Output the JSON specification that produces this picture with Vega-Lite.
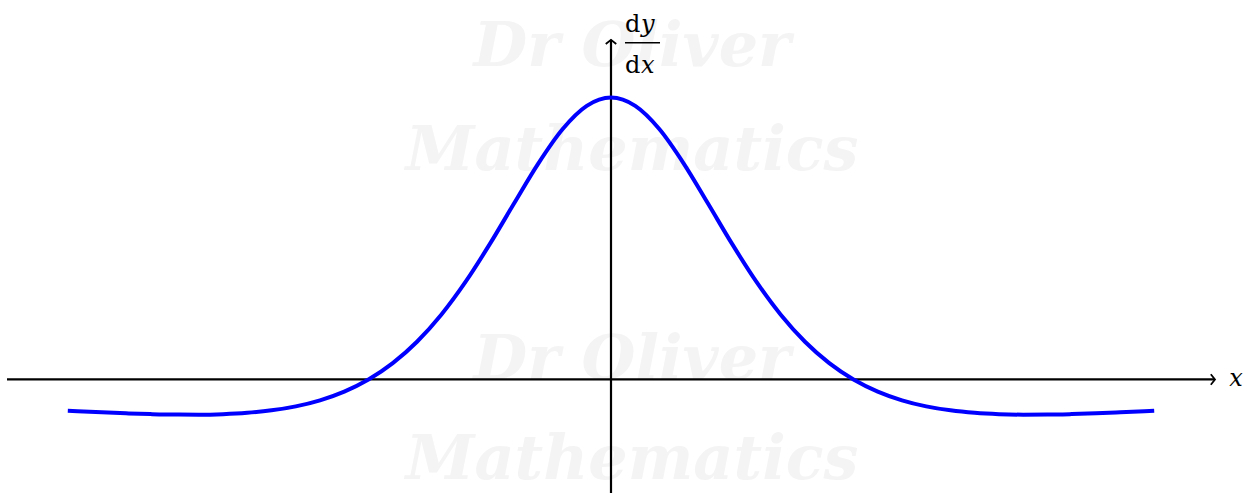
{
  "$schema": "https://vega.github.io/schema/vega-lite/v6.json",
  "width": 1251,
  "height": 495,
  "padding": 0,
  "autosize": {"type": "fit", "contains": "padding"},
  "background": "white",
  "config": {"view": {"stroke": null}},
  "encoding": {
    "x": {"field": "x", "type": "quantitative", "axis": null,
          "scale": {"domain": [-2.5196, 2.6392], "nice": false, "zero": false}},
    "y": {"field": "y", "type": "quantitative", "axis": null,
          "scale": {"domain": [-0.4028, 1.3463], "nice": false, "zero": false}}
  },
  "layer": [
    {
      "data": {"values": [
        {"x": 0.087, "y": 1.18, "label": "Dr Oliver"},
        {"x": 0.087, "y": 0.81, "label": "Mathematics"},
        {"x": 0.087, "y": 0.068, "label": "Dr Oliver"},
        {"x": 0.087, "y": -0.285, "label": "Mathematics"}
      ]},
      "mark": {"type": "text", "font": "DejaVu Serif", "fontStyle": "italic", "fontWeight": "bold",
               "fontSize": 62, "color": "#f4f4f4", "align": "center", "baseline": "middle"},
      "encoding": {"text": {"field": "label"}}
    },
    {
      "data": {"values": [
        {"x": -2.4907, "y": 0, "x2": 2.4907, "y2": 0},
        {"x": 0, "y": -0.4028, "x2": 0, "y2": 1.205}
      ]},
      "mark": {"type": "rule", "color": "black", "strokeWidth": 2.2},
      "encoding": {"x2": {"field": "x2"}, "y2": {"field": "y2"}}
    },
    {
      "data": {"values": [{"x": 2.4907, "y": 0}]},
      "mark": {"type": "point", "shape": "M -0.8 -1 L 0 0 L -0.8 1", "filled": false,
               "stroke": "black", "strokeWidth": 1.8, "size": 110, "opacity": 1}
    },
    {
      "data": {"values": [{"x": 0, "y": 1.205}]},
      "mark": {"type": "point", "shape": "M -1 0.8 L 0 0 L 1 0.8", "filled": false,
               "stroke": "black", "strokeWidth": 1.8, "size": 110, "opacity": 1}
    },
    {
      "data": {"values": [
        {"x": -2.24, "y": -0.11095}, {"x": -2.2, "y": -0.11259}, {"x": -2.1, "y": -0.11651},
        {"x": -2.0, "y": -0.12}, {"x": -1.9, "y": -0.12281}, {"x": -1.8, "y": -0.1246},
        {"x": -1.7, "y": -0.1249}, {"x": -1.6, "y": -0.12309}, {"x": -1.5, "y": -0.11834},
        {"x": -1.4, "y": -0.10957}, {"x": -1.3, "y": -0.09536}, {"x": -1.2, "y": -0.07391},
        {"x": -1.1, "y": -0.043}, {"x": -1.0, "y": 0}, {"x": -0.9, "y": 0.058},
        {"x": -0.8, "y": 0.13385}, {"x": -0.7, "y": 0.22972}, {"x": -0.6, "y": 0.34602},
        {"x": -0.5, "y": 0.48}, {"x": -0.4, "y": 0.62426}, {"x": -0.3, "y": 0.76593},
        {"x": -0.2, "y": 0.88757}, {"x": -0.1, "y": 0.97049}, {"x": 0, "y": 1},
        {"x": 0.1, "y": 0.97049}, {"x": 0.2, "y": 0.88757}, {"x": 0.3, "y": 0.76593},
        {"x": 0.4, "y": 0.62426}, {"x": 0.5, "y": 0.48}, {"x": 0.6, "y": 0.34602},
        {"x": 0.7, "y": 0.22972}, {"x": 0.8, "y": 0.13385}, {"x": 0.9, "y": 0.058},
        {"x": 1.0, "y": 0}, {"x": 1.1, "y": -0.043}, {"x": 1.2, "y": -0.07391},
        {"x": 1.3, "y": -0.09536}, {"x": 1.4, "y": -0.10957}, {"x": 1.5, "y": -0.11834},
        {"x": 1.6, "y": -0.12309}, {"x": 1.7, "y": -0.1249}, {"x": 1.8, "y": -0.1246},
        {"x": 1.9, "y": -0.12281}, {"x": 2.0, "y": -0.12}, {"x": 2.1, "y": -0.11651},
        {"x": 2.2, "y": -0.11259}, {"x": 2.24, "y": -0.11095}
      ]},
      "mark": {"type": "line", "color": "#0000ff", "strokeWidth": 4, "interpolate": "monotone"}
    },
    {
      "data": {"values": [
        {"x": 0.0577, "y": 1.2332, "label": "d"},
        {"x": 0.0577, "y": 1.0883, "label": "d"}
      ]},
      "mark": {"type": "text", "font": "DejaVu Serif", "fontSize": 24, "color": "black",
               "align": "left", "baseline": "alphabetic"},
      "encoding": {"text": {"field": "label"}}
    },
    {
      "data": {"values": [
        {"x": 0.1237, "y": 1.2332, "label": "y"},
        {"x": 0.1237, "y": 1.0883, "label": "x"}
      ]},
      "mark": {"type": "text", "font": "DejaVu Serif", "fontStyle": "italic", "fontSize": 24,
               "color": "black", "align": "left", "baseline": "alphabetic"},
      "encoding": {"text": {"field": "label"}}
    },
    {
      "data": {"values": [{"x": 0.0577, "y": 1.1943, "x2": 0.2021}]},
      "mark": {"type": "rule", "color": "black", "strokeWidth": 1.5},
      "encoding": {"x2": {"field": "x2"}}
    },
    {
      "data": {"values": [{"x": 2.577, "y": -0.0247, "label": "x"}]},
      "mark": {"type": "text", "font": "DejaVu Serif", "fontStyle": "italic", "fontSize": 24,
               "color": "black", "align": "center", "baseline": "alphabetic"},
      "encoding": {"text": {"field": "label"}}
    }
  ]
}
